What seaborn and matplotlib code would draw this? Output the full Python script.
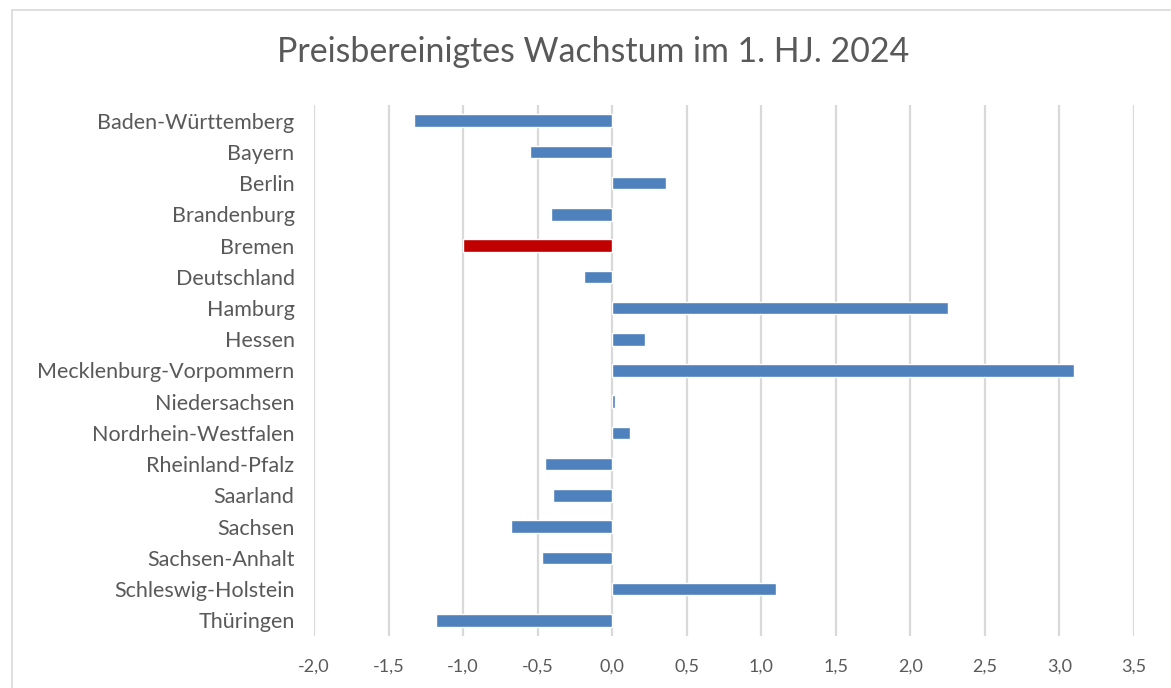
import matplotlib
matplotlib.use("Agg")
import matplotlib.pyplot as plt
import seaborn as sns
import pandas as pd
from matplotlib.ticker import FuncFormatter
from matplotlib.patches import Rectangle

laender = ["Baden-Württemberg", "Bayern", "Berlin", "Brandenburg", "Bremen",
           "Deutschland", "Hamburg", "Hessen", "Mecklenburg-Vorpommern",
           "Niedersachsen", "Nordrhein-Westfalen", "Rheinland-Pfalz", "Saarland",
           "Sachsen", "Sachsen-Anhalt", "Schleswig-Holstein", "Thüringen"]
wachstum = [-1.33, -0.55, 0.36, -0.41, -1.0, -0.19, 2.25, 0.22, 3.1,
            0.02, 0.12, -0.45, -0.4, -0.68, -0.47, 1.1, -1.18]
hervorgehoben = "Bremen"
xticks = [-2.0, -1.5, -1.0, -0.5, 0.0, 0.5, 1.0, 1.5, 2.0, 2.5, 3.0, 3.5]

df = pd.DataFrame({"Land": laender, "Wert": wachstum})
df["Gruppe"] = ["rot" if l == hervorgehoben else "blau" for l in laender]

sns.set_theme(style="white")
plt.rcParams["font.family"] = ["Lato", "DejaVu Sans"]

fig = plt.figure(figsize=(11.71, 6.88), dpi=100)
ax = fig.add_axes([314/1171, 1-636/688, (1134-314)/1171, (636-105)/688])

sns.barplot(data=df, x="Wert", y="Land", hue="Gruppe", orient="h",
            palette={"blau": "#4F81BD", "rot": "#C00000"}, dodge=False,
            width=0.4, legend=False, ax=ax, saturation=1, zorder=3)

ax.set_xlim(-2.0, 3.5)
ax.set_xticks(xticks)
ax.xaxis.set_major_formatter(FuncFormatter(lambda v, p: f"{v:.1f}".replace(".", ",")))
ax.grid(axis="x", color="#D9D9D9", linewidth=1.6, zorder=0)
ax.set_axisbelow(True)
for s in ax.spines.values():
    s.set_visible(False)
ax.set_xlabel("")
ax.set_ylabel("")
ax.tick_params(axis="y", length=0, pad=14, labelsize=15.5, labelcolor="#595959")
ax.tick_params(axis="x", length=5, width=1, color="#D9D9D9", direction="out",
               pad=11, labelsize=13, labelcolor="#595959")

fig.text(593/1171, 1-52/688, "Preisbereinigtes Wachstum im 1. HJ. 2024",
         ha="center", va="center", fontsize=24.4, color="#595959")

fig.patches.append(Rectangle((12/1171, -0.01), 1.02, 1-10/688+0.01,
                             transform=fig.transFigure, fill=False,
                             edgecolor="#D9D9D9", linewidth=1.2))

fig.savefig("out.png", dpi=100)
